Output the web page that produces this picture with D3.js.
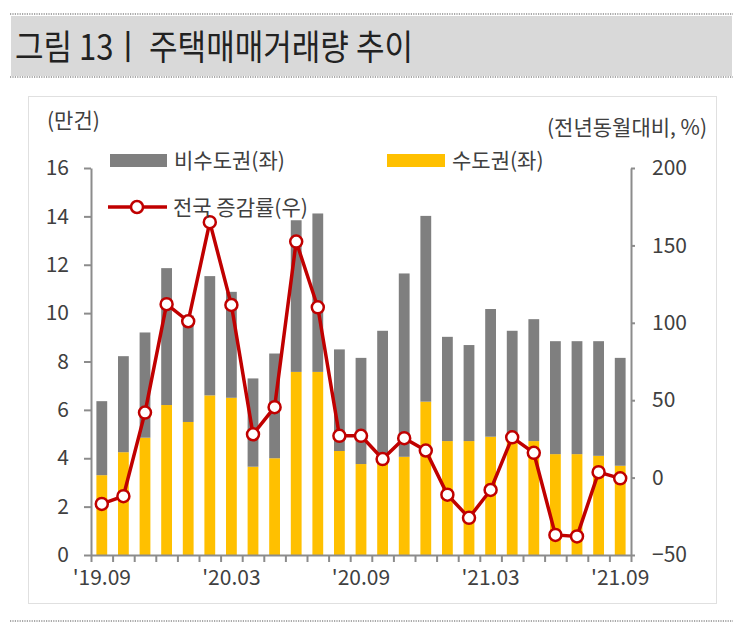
<!DOCTYPE html>
<html>
<head>
<meta charset="utf-8">
<script src="https://cdn.jsdelivr.net/npm/d3@7"></script>
<style>
  body { margin: 0; background: #fff; }
  text { font-family: "Noto Sans CJK KR", "Noto Sans", sans-serif; }
</style>
</head>
<body>
<svg id="chart" width="743" height="625"></svg>
<script>
// months on the x axis
const months = ["19.09", "19.10", "19.11", "19.12", "20.01", "20.02", "20.03", "20.04", "20.05",
  "20.06", "20.07", "20.08", "20.09", "20.10", "20.11", "20.12", "21.01", "21.02", "21.03",
  "21.04", "21.05", "21.06", "21.07", "21.08", "21.09"];
const labelMonths = ["19.09", "20.03", "20.09", "21.03", "21.09"];
// 수도권 (만건)
const capital = [3.3, 4.25, 4.85, 6.2, 5.5, 6.6, 6.5, 3.65, 4.0, 7.57, 7.57, 4.3, 3.76,
  3.9, 4.06, 6.34, 4.71, 4.71, 4.89, 4.85, 4.71, 4.17, 4.17, 4.1, 3.69];
// 비수도권 (만건)
const nonCapital = [3.06, 3.97, 4.35, 5.66, 4.4, 4.93, 4.38, 3.65, 4.33, 6.27, 6.55, 4.2, 4.39,
  5.37, 7.58, 7.68, 4.31, 3.97, 5.28, 4.42, 5.04, 4.67, 4.67, 4.74, 4.46];
// 전국 증감률 (%)
const growth = [-17, -12, 42, 112, 101, 165, 111.5, 28, 45.5, 152.5, 110, 27, 27,
  12, 25.5, 17.5, -11, -26, -8, 26, 16, -37, -38, 3.5, -0.5];
const leftTicks = [0, 2, 4, 6, 8, 10, 12, 14, 16];
const rightTicks = [-50, 0, 50, 100, 150, 200];

const data = months.map((m, i) => ({ month: m, capital: capital[i], nonCapital: nonCapital[i], growth: growth[i] }));

const svg = d3.select("#chart");
const gray = "#7f7f7f", yellow = "#ffc000", red = "#c00000", axisColor = "#8c8c8c", textColor = "#404040";

// title band
svg.append("rect").attr("x", 11).attr("y", 16).attr("width", 721).attr("height", 60).attr("fill", "#d9d9d9");
[14, 77, 621].forEach((yy) => {
  svg.append("line").attr("x1", 10).attr("x2", 733).attr("y1", yy).attr("y2", yy)
    .attr("stroke", "#555").attr("stroke-width", 1.2).attr("stroke-dasharray", "1.2,1.2");
});
svg.append("text").attr("x", 15).attr("y", 60).attr("font-size", 35).attr("fill", "#222")
  .attr("textLength", 398).attr("lengthAdjust", "spacingAndGlyphs")
  .text("그림 13ㅣ 주택매매거래량 추이");

// chart frame
svg.append("rect").attr("x", 28.5).attr("y", 96.5).attr("width", 688).attr("height", 507)
  .attr("fill", "none").attr("stroke", "#e0e0e0");

const plotLeft = 91, plotRight = 631, plotTop = 168, plotBottom = 555;

const x = d3.scaleBand().domain(months).range([plotLeft, plotRight]).paddingInner(0.5).paddingOuter(0.25);
const xb = d3.scaleLinear().domain([0, months.length]).range([plotLeft, plotRight]);
const y = d3.scaleLinear().domain([0, 16]).range([plotBottom, plotTop]);
const y2 = d3.scaleLinear().domain([-50, 200]).range([plotBottom, plotTop]);

// bars
const bars = svg.append("g");
bars.selectAll(".cap").data(data).enter().append("rect")
  .attr("x", (d) => x(d.month)).attr("width", x.bandwidth())
  .attr("y", (d) => y(d.capital)).attr("height", (d) => y(0) - y(d.capital))
  .attr("fill", yellow);
bars.selectAll(".non").data(data).enter().append("rect")
  .attr("x", (d) => x(d.month)).attr("width", x.bandwidth())
  .attr("y", (d) => y(d.capital + d.nonCapital)).attr("height", (d) => y(d.capital) - y(d.capital + d.nonCapital))
  .attr("fill", gray);

function styleAxis(g) {
  g.select(".domain").attr("stroke", axisColor).attr("stroke-width", 2);
  g.selectAll(".tick line").attr("stroke", axisColor).attr("stroke-width", 2);
  g.selectAll("text").attr("fill", textColor).attr("font-size", 21)
    .attr("font-family", '"Noto Sans CJK KR", "Noto Sans", sans-serif');
}

// left axis
svg.append("g").attr("transform", `translate(${plotLeft},0)`)
  .call(d3.axisLeft(y).tickValues(leftTicks).tickSize(7).tickSizeOuter(0).tickPadding(15))
  .call(styleAxis);

// right axis
svg.append("g").attr("transform", `translate(${plotRight},0)`)
  .call(d3.axisRight(y2).tickValues(rightTicks).tickSize(4).tickSizeOuter(0).tickPadding(17)
    .tickFormat((d) => (d < 0 ? "\u2212" + Math.abs(d) : d)))
  .call(styleAxis);

// bottom axis: ticks at band boundaries, labels under selected months
svg.append("g").attr("transform", `translate(0,${plotBottom})`)
  .call(d3.axisBottom(xb).tickValues(d3.range(months.length + 1)).tickSize(7).tickSizeOuter(0).tickFormat(""))
  .call(styleAxis);
svg.append("g").attr("transform", `translate(0,${plotBottom})`)
  .call(d3.axisBottom(x).tickValues(labelMonths).tickSize(0).tickPadding(15).tickFormat((d) => "'" + d))
  .call(styleAxis)
  .call((g) => g.select(".domain").remove());

// growth line
svg.append("path").datum(data)
  .attr("fill", "none").attr("stroke", red).attr("stroke-width", 3.5)
  .attr("d", d3.line().x((d) => x(d.month) + x.bandwidth() / 2).y((d) => y2(d.growth)));
svg.selectAll(".pt").data(data).enter().append("circle")
  .attr("cx", (d) => x(d.month) + x.bandwidth() / 2).attr("cy", (d) => y2(d.growth))
  .attr("r", 6).attr("fill", "#fff").attr("stroke", red).attr("stroke-width", 2.5);

// axis titles
svg.append("text").attr("x", 47).attr("y", 128).attr("font-size", 21).attr("fill", textColor).text("(만건)");
svg.append("text").attr("x", 707).attr("y", 135).attr("text-anchor", "end").attr("font-size", 21)
  .attr("fill", textColor).text("(전년동월대비, %)");

// legend
svg.append("rect").attr("x", 110).attr("y", 154).attr("width", 57).attr("height", 13).attr("fill", gray);
svg.append("text").attr("x", 174).attr("y", 168).attr("font-size", 21).attr("fill", textColor).text("비수도권(좌)");
svg.append("rect").attr("x", 387).attr("y", 154).attr("width", 58).attr("height", 13).attr("fill", yellow);
svg.append("text").attr("x", 452).attr("y", 168).attr("font-size", 21).attr("fill", textColor).text("수도권(좌)");
svg.append("line").attr("x1", 108).attr("x2", 167).attr("y1", 207).attr("y2", 207)
  .attr("stroke", red).attr("stroke-width", 3.5);
svg.append("circle").attr("cx", 137).attr("cy", 207).attr("r", 6)
  .attr("fill", "#fff").attr("stroke", red).attr("stroke-width", 2.5);
svg.append("text").attr("x", 173).attr("y", 215).attr("font-size", 21).attr("fill", textColor).text("전국 증감률(우)");
</script>
</body>
</html>
